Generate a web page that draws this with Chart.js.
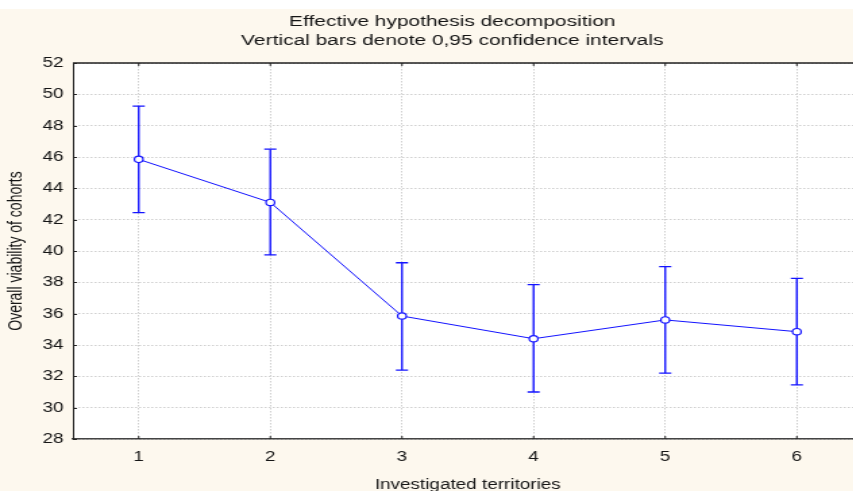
<!DOCTYPE html>
<html lang="en">
<head>
<meta charset="UTF-8">
<title>Effective hypothesis decomposition</title>
<script src="https://cdn.jsdelivr.net/npm/chart.js"></script>
<style>
    html, body { margin: 0; padding: 0; background: #fff; overflow: hidden; width: 853px; height: 491px; }
    /* the source picture is stretched sideways, so the canvas is too */
    .wrap { position: absolute; top: 9px; left: 0; width: 670px; height: 482px; transform: scaleX(1.35); transform-origin: 0 0; }
</style>
</head>
<body>
<div class="wrap"><canvas id="chart" width="670" height="482"></canvas></div>
<script>
    // Data
    const territories = [1, 2, 3, 4, 5, 6];
    const means = [45.85, 43.1, 35.85, 34.4, 35.6, 34.85];
    const lower = [42.45, 39.75, 32.4, 31.0, 32.2, 31.45];
    const upper = [49.25, 46.5, 39.25, 37.85, 39.0, 38.25];
    const yMin = 28, yMax = 52, yStep = 2;

    const FONT = '"Liberation Sans", Arial, sans-serif';
    const BLUE = '#1414ff';
    const TEXT = '#151515';

    const frame = {
        id: 'frame',
        beforeDraw(chart) {
            const { ctx, chartArea: a, width, height } = chart;
            ctx.save();
            ctx.fillStyle = '#fdf8ee';
            ctx.fillRect(0, 0, width, height);
            ctx.fillStyle = '#ffffff';
            ctx.fillRect(a.left, a.top, a.right - a.left, a.bottom - a.top);
            ctx.restore();
        },
        beforeDatasetsDraw(chart) {
            // confidence interval whiskers
            const { ctx, scales: { x, y } } = chart;
            ctx.save();
            ctx.strokeStyle = BLUE;
            territories.forEach((t, i) => {
                const px = x.getPixelForValue(t);
                const top = y.getPixelForValue(upper[i]);
                const bot = y.getPixelForValue(lower[i]);
                ctx.lineWidth = 1.4;
                ctx.beginPath();
                ctx.moveTo(px, top);
                ctx.lineTo(px, bot);
                ctx.stroke();
                ctx.lineWidth = 1.3;
                ctx.beginPath();
                ctx.moveTo(px - 4.5, top);
                ctx.lineTo(px + 4.5, top);
                ctx.moveTo(px - 4.5, bot);
                ctx.lineTo(px + 4.5, bot);
                ctx.stroke();
            });
            ctx.restore();
        },
        afterDraw(chart) {
            // top frame line and inward tick marks
            const { ctx, chartArea: a, scales: { x, y } } = chart;
            ctx.save();
            ctx.strokeStyle = '#222';
            ctx.lineWidth = 1.5;
            ctx.beginPath();
            ctx.moveTo(a.left, a.top);
            ctx.lineTo(a.right, a.top);
            ctx.stroke();
            ctx.lineWidth = 1;
            ctx.beginPath();
            y.ticks.forEach(tk => {
                const py = Math.round(y.getPixelForValue(tk.value)) + 0.5;
                ctx.moveTo(a.left, py);
                ctx.lineTo(a.left + 3, py);
            });
            x.ticks.forEach(tk => {
                const px = x.getPixelForValue(tk.value);
                ctx.moveTo(px, a.bottom);
                ctx.lineTo(px, a.bottom - 3);
                ctx.moveTo(px, a.top);
                ctx.lineTo(px, a.top + 3);
            });
            ctx.stroke();
            ctx.restore();
        }
    };

    new Chart(document.getElementById('chart'), {
        type: 'line',
        data: {
            datasets: [{
                data: territories.map((t, i) => ({ x: t, y: means[i] })),
                borderColor: BLUE,
                borderWidth: 1,
                pointRadius: 3.2,
                pointBorderWidth: 1.2,
                pointBackgroundColor: '#ffffff',
                pointBorderColor: BLUE,
                tension: 0
            }]
        },
        options: {
            responsive: false,
            animation: false,
            events: [],
            layout: { padding: 0 },
            plugins: {
                legend: { display: false },
                tooltip: { enabled: false },
                title: {
                    display: true,
                    text: ['Effective hypothesis decomposition', 'Vertical bars denote 0,95 confidence intervals'],
                    color: TEXT,
                    font: { family: FONT, size: 15.5, weight: 'normal', lineHeight: '19px' },
                    padding: { top: 3.5, bottom: 12.5 }
                }
            },
            scales: {
                x: {
                    type: 'linear',
                    min: 0.5,
                    max: 6.5,
                    afterBuildTicks: s => { s.ticks = territories.map(v => ({ value: v })); },
                    afterFit: s => { s.height = 52; },
                    grid: { color: '#cfcfcf', lineWidth: 1, drawTicks: false },
                    border: { color: '#444', width: 1.5, dash: [1.5, 1.5] },
                    ticks: { color: TEXT, font: { family: FONT, size: 14 }, padding: 10 },
                    title: {
                        display: true,
                        text: 'Investigated territories',
                        color: TEXT,
                        font: { family: FONT, size: 14, lineHeight: 0.85 },
                        padding: { top: 0, bottom: 0 }
                    }
                },
                y: {
                    min: yMin,
                    max: yMax,
                    afterFit: s => { s.width = 54; },
                    grid: { color: '#cfcfcf', lineWidth: 1, drawTicks: false },
                    border: { color: '#222', width: 1, dash: [1.5, 1.5] },
                    ticks: { stepSize: yStep, color: TEXT, font: { family: FONT, size: 14 }, padding: 7 },
                    title: {
                        display: true,
                        text: 'Overall viability of cohorts',
                        color: TEXT,
                        font: { family: FONT, size: 14 },
                        padding: { top: 4, bottom: 0 }
                    }
                },
                yR: {
                    position: 'right',
                    display: true,
                    grid: { display: false },
                    border: { display: false },
                    ticks: { display: false },
                    afterFit: s => { s.width = 31; }
                }
            }
        },
        plugins: [frame]
    });
</script>
</body>
</html>
